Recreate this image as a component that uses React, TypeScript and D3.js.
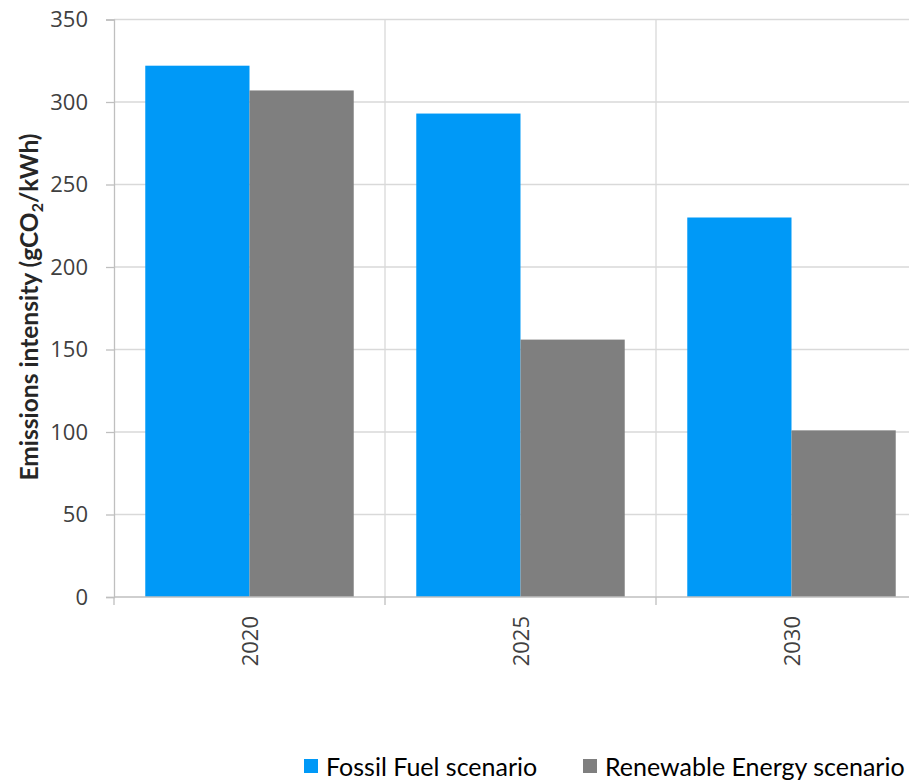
import React, { useEffect, useRef } from "react";
import * as d3 from "d3";

const years = ["2020", "2025", "2030"];
const seriesNames = ["Fossil Fuel scenario", "Renewable Energy scenario"];
const fossilFuel = [322, 293, 230];
const renewable = [307, 156, 101];
const yTicks = [0, 50, 100, 150, 200, 250, 300, 350];
const colors = ["#0099F7", "#7F7F7F"];

const W = 909;
const H = 782;
const frame = { left: 114, top: 19.5, right: 927, bottom: 597 };

export default function App() {
  const ref = useRef<SVGSVGElement>(null);

  useEffect(() => {
    const svg = d3.select(ref.current);
    svg.selectAll("*").remove();

    const x = d3
      .scaleBand<string>()
      .domain(years)
      .range([frame.left, frame.right])
      .padding(0);
    const inner = d3
      .scaleBand<string>()
      .domain(seriesNames)
      .range([0, x.bandwidth()])
      .paddingInner(0)
      .paddingOuter(0.3);
    const y = d3.scaleLinear().domain([0, 350]).range([frame.bottom, frame.top]);

    // horizontal grid
    svg
      .append("g")
      .selectAll("line")
      .data(yTicks.filter((t) => t > 0))
      .join("line")
      .attr("x1", frame.left)
      .attr("x2", frame.right)
      .attr("y1", (d) => y(d))
      .attr("y2", (d) => y(d))
      .attr("stroke", "#d9d9d9")
      .attr("stroke-width", 1.3);

    // vertical grid between categories
    svg
      .append("g")
      .selectAll("line")
      .data(years.slice(1))
      .join("line")
      .attr("x1", (d) => x(d)!)
      .attr("x2", (d) => x(d)!)
      .attr("y1", frame.top)
      .attr("y2", frame.bottom)
      .attr("stroke", "#d9d9d9")
      .attr("stroke-width", 1.3);

    const rows = years.map((yr, i) => ({ yr, values: [fossilFuel[i], renewable[i]] }));
    const g = svg
      .append("g")
      .selectAll("g")
      .data(rows)
      .join("g")
      .attr("transform", (d) => `translate(${x(d.yr)},0)`);
    g.selectAll("rect")
      .data((d) => d.values.map((v, k) => ({ v, k })))
      .join("rect")
      .attr("x", (d) => inner(seriesNames[d.k])!)
      .attr("width", inner.bandwidth())
      .attr("y", (d) => y(d.v))
      .attr("height", (d) => y(0) - y(d.v))
      .attr("fill", (d) => colors[d.k]);

    // y axis
    const ya = svg
      .append("g")
      .attr("transform", `translate(${frame.left},0)`)
      .call(d3.axisLeft(y).tickValues(yTicks).tickSize(8).tickPadding(18));
    ya.select(".domain").attr("stroke", "#bfbfbf").attr("stroke-width", 1.3);
    ya.selectAll(".tick line").attr("stroke", "#bfbfbf").attr("stroke-width", 1.3);
    ya.selectAll(".tick text")
      .attr("font-family", "'Open Sans', sans-serif")
      .attr("font-size", 22)
      .attr("fill", "#404040");

    // x axis
    const xa = svg.append("g").attr("transform", `translate(0,${frame.bottom})`);
    xa.append("line")
      .attr("x1", frame.left)
      .attr("x2", frame.right)
      .attr("stroke", "#bfbfbf")
      .attr("stroke-width", 1.3);
    xa.selectAll("line.tk")
      .data([...years.map((d) => x(d)!), frame.right])
      .join("line")
      .attr("class", "tk")
      .attr("x1", (d) => d)
      .attr("x2", (d) => d)
      .attr("y1", 0)
      .attr("y2", 8)
      .attr("stroke", "#bfbfbf")
      .attr("stroke-width", 1.3);
    xa.selectAll("text")
      .data(years)
      .join("text")
      .attr("transform", (d) => `translate(${x(d)! + x.bandwidth() / 2 + 8},19) rotate(-90)`)
      .attr("text-anchor", "end")
      .attr("font-family", "'Open Sans', sans-serif")
      .attr("font-size", 22)
      .attr("fill", "#404040")
      .text((d) => d);

    // y axis title
    const title = svg
      .append("text")
      .attr("transform", `translate(38,307) rotate(-90)`)
      .attr("text-anchor", "middle")
      .attr("font-family", "Lato, sans-serif")
      .attr("font-weight", "bold")
      .attr("font-size", 24.5)
      .attr("fill", "#262626");
    title.append("tspan").text("Emissions intensity (gCO");
    title.append("tspan").attr("font-size", 16).attr("dy", 5).text("2");
    title.append("tspan").attr("dy", -5).text("/kWh)");

    // legend
    const legendX = [304, 583];
    const lg = svg
      .append("g")
      .selectAll("g")
      .data(seriesNames)
      .join("g")
      .attr("transform", (_, i) => `translate(${legendX[i]},759)`);
    lg.append("rect").attr("width", 14).attr("height", 14).attr("fill", (_, i) => colors[i]);
    lg.append("text")
      .attr("x", 22)
      .attr("y", 17)
      .attr("font-family", "Lato, sans-serif")
      .attr("font-size", 25)
      .attr("fill", "#000")
      .text((d) => d);
  }, []);

  return <svg ref={ref} width={W} height={H} style={{ display: "block", position: "absolute", left: 0, top: 0 }} />;
}
